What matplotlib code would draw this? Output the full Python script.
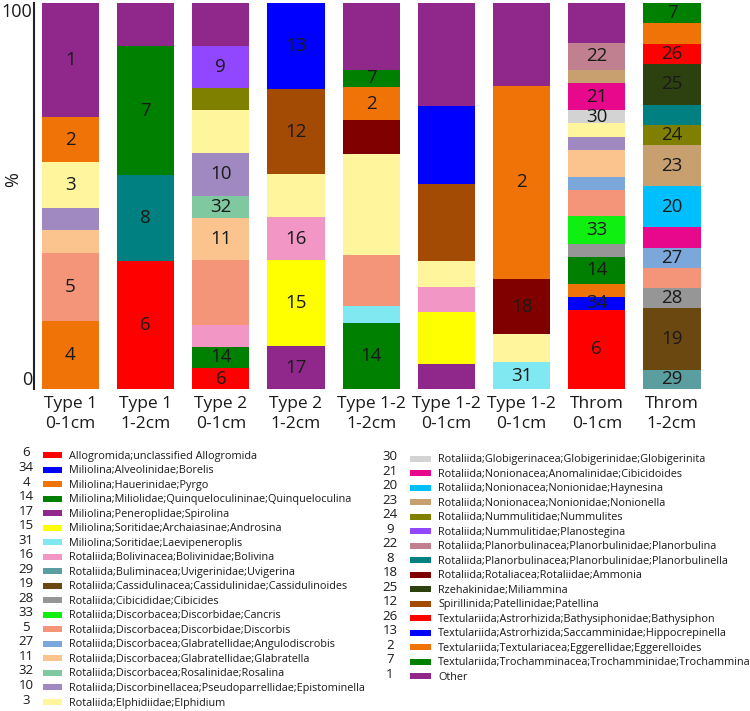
import matplotlib
matplotlib.use("Agg")
import matplotlib.pyplot as plt

plt.rcParams['font.family'] = ['Open Sans', 'DejaVu Sans']

# ---------------- data ----------------
sample_labels = ["Type 1\n0-1cm", "Type 1\n1-2cm", "Type 2\n0-1cm", "Type 2\n1-2cm",
                 "Type 1-2\n1-2cm", "Type 1-2\n0-1cm", "Type 1-2\n0-1cm",
                 "Throm\n0-1cm", "Throm\n1-2cm"]

# taxa per bar (bottom -> top), values in %, and which segments carry a number label
bar1_taxa = [4, 5, 11, 10, 3, 2, 1]
bar1_vals = [17.5, 17.7, 5.9, 5.9, 11.7, 11.8, 29.5]
bar1_lab = [4, 5, 3, 2, 1]

bar2_taxa = [6, 8, 7, 1]
bar2_vals = [33.2, 22.2, 33.4, 11.2]
bar2_lab = [6, 8, 7]

bar3_taxa = [6, 14, 16, 5, 11, 32, 10, 3, 24, 9, 1]
bar3_vals = [5.4, 5.6, 5.5, 16.8, 11.0, 5.8, 11.0, 11.2, 5.6, 11.0, 11.1]
bar3_lab = [6, 14, 11, 32, 10, 9]

bar4_taxa = [17, 15, 16, 3, 12, 13]
bar4_vals = [11.1, 22.2, 11.2, 11.1, 22.2, 22.2]
bar4_lab = [17, 15, 16, 12, 13]

bar5_taxa = [14, 31, 5, 3, 18, 2, 7, 1]
bar5_vals = [17.2, 4.3, 13.2, 26.1, 8.8, 8.6, 4.5, 17.3]
bar5_lab = [14, 2, 7]

bar6_taxa = [17, 15, 16, 3, 12, 13, 1]
bar6_vals = [6.5, 13.4, 6.6, 6.7, 20.0, 20.2, 26.6]
bar6_lab = []

bar7_taxa = [31, 3, 18, 2, 1]
bar7_vals = [6.9, 7.3, 14.3, 50.1, 21.4]
bar7_lab = [31, 18, 2]

bar8_taxa = [6, 34, 2, 14, 28, 33, 5, 27, 11, 10, 3, 30, 21, 23, 22, 1]
bar8_vals = [20.5, 3.4, 3.4, 6.9, 3.4, 7.1, 6.9, 3.3, 7.1, 3.4, 3.4, 3.4, 7.1, 3.4, 6.9, 10.4]
bar8_lab = [6, 34, 14, 33, 30, 21, 22]

bar9_taxa = [29, 19, 28, 5, 27, 21, 20, 23, 24, 8, 25, 26, 2, 7]
bar9_vals = [5.0, 15.9, 5.2, 5.3, 5.2, 5.4, 10.5, 10.6, 5.2, 5.3, 10.6, 5.2, 5.3, 5.3]
bar9_lab = [29, 19, 28, 27, 20, 23, 24, 25, 26, 7]

bars_taxa = [bar1_taxa, bar2_taxa, bar3_taxa, bar4_taxa, bar5_taxa,
             bar6_taxa, bar7_taxa, bar8_taxa, bar9_taxa]
bars_vals = [bar1_vals, bar2_vals, bar3_vals, bar4_vals, bar5_vals,
             bar6_vals, bar7_vals, bar8_vals, bar9_vals]
bars_lab = [bar1_lab, bar2_lab, bar3_lab, bar4_lab, bar5_lab,
            bar6_lab, bar7_lab, bar8_lab, bar9_lab]

taxon_colors = {
    6: '#FF0000', 34: '#0000FF', 4: '#F07308', 14: '#008000', 17: '#90288C',
    15: '#FFFF00', 31: '#80E8F0', 16: '#F296C6', 29: '#5A9EA0', 19: '#6B4810',
    28: '#969696', 33: '#10F010', 5: '#F4957A', 27: '#7BA7DA', 11: '#FBC48E',
    32: '#80C8A0', 10: '#A088C0', 3: '#FFF59C', 30: '#D3D3D3', 21: '#E8088C',
    20: '#00BFFF', 23: '#C8A070', 24: '#808000', 9: '#9146FF', 22: '#C08090',
    8: '#008080', 18: '#800000', 25: '#2C4010', 12: '#A34A04', 26: '#FF0000',
    13: '#0000FF', 2: '#F07308', 7: '#008000', 1: '#90288C',
}

legend_left_ids = [6, 34, 4, 14, 17, 15, 31, 16, 29, 19, 28, 33, 5, 27, 11, 32, 10, 3]
legend_left_names = [
    "Allogromida;unclassified Allogromida",
    "Miliolina;Alveolinidae;Borelis",
    "Miliolina;Hauerinidae;Pyrgo",
    "Miliolina;Miliolidae;Quinqueloculininae;Quinqueloculina",
    "Miliolina;Peneroplidae;Spirolina",
    "Miliolina;Soritidae;Archaiasinae;Androsina",
    "Miliolina;Soritidae;Laevipeneroplis",
    "Rotaliida;Bolivinacea;Bolivinidae;Bolivina",
    "Rotaliida;Buliminacea;Uvigerinidae;Uvigerina",
    "Rotaliida;Cassidulinacea;Cassidulinidae;Cassidulinoides",
    "Rotaliida;Cibicididae;Cibicides",
    "Rotaliida;Discorbacea;Discorbidae;Cancris",
    "Rotaliida;Discorbacea;Discorbidae;Discorbis",
    "Rotaliida;Discorbacea;Glabratellidae;Angulodiscrobis",
    "Rotaliida;Discorbacea;Glabratellidae;Glabratella",
    "Rotaliida;Discorbacea;Rosalinidae;Rosalina",
    "Rotaliida;Discorbinellacea;Pseudoparrellidae;Epistominella",
    "Rotaliida;Elphidiidae;Elphidium",
]
legend_right_ids = [30, 21, 20, 23, 24, 9, 22, 8, 18, 25, 12, 26, 13, 2, 7, 1]
legend_right_names = [
    "Rotaliida;Globigerinacea;Globigerinidae;Globigerinita",
    "Rotaliida;Nonionacea;Anomalinidae;Cibicidoides",
    "Rotaliida;Nonionacea;Nonionidae;Haynesina",
    "Rotaliida;Nonionacea;Nonionidae;Nonionella",
    "Rotaliida;Nummulitidae;Nummulites",
    "Rotaliida;Nummulitidae;Planostegina",
    "Rotaliida;Planorbulinacea;Planorbulinidae;Planorbulina",
    "Rotaliida;Planorbulinacea;Planorbulinidae;Planorbulinella",
    "Rotaliida;Rotaliacea;Rotaliidae;Ammonia",
    "Rzehakinidae;Miliammina",
    "Spirillinida;Patellinidae;Patellina",
    "Textulariida;Astrorhizida;Bathysiphonidae;Bathysiphon",
    "Textulariida;Astrorhizida;Saccamminidae;Hippocrepinella",
    "Textulariida;Textulariacea;Eggerellidae;Eggerelloides",
    "Textulariida;Trochamminacea;Trochamminidae;Trochammina",
    "Other",
]

# ---------------- figure ----------------
W, H, DPI = 750, 711, 100
fig = plt.figure(figsize=(W / DPI, H / DPI), dpi=DPI)
fig.patch.set_facecolor('white')

ax = fig.add_axes([34 / W, (H - 389) / H, (709.6 - 34) / W, 386 / H])
txt_col = '#1a1a1a'

for i, (taxa, vals, labs) in enumerate(zip(bars_taxa, bars_vals, bars_lab)):
    bottom = 0.0
    for t, v in zip(taxa, vals):
        ax.bar(i, v, bottom=bottom, width=0.76, color=taxon_colors[t],
               edgecolor='none', linewidth=0)
        if t in labs:
            ax.text(i, bottom + v / 2, str(t), ha='center', va='center',
                    fontsize=13.5, color=txt_col)
        bottom += v

ax.set_xlim(-0.485, 8.5)
ax.set_ylim(0, 100)
for s in ['top', 'right', 'bottom']:
    ax.spines[s].set_visible(False)
ax.spines['left'].set_color('#222222')
ax.spines['left'].set_linewidth(1.5)

ax.set_xticks(range(len(sample_labels)))
ax.set_xticklabels(sample_labels, fontsize=12.5, color=txt_col, linespacing=1.3)
ax.tick_params(axis='x', length=0, pad=5)
ax.set_yticks([0, 100])
ax.set_yticklabels(['0', '100'], fontsize=13, color=txt_col)
ax.tick_params(axis='y', length=0, pad=1)
yl = ax.get_yticklabels()
yl[0].set_va('bottom')
yl[1].set_va('top')

# ---------------- legend / overlay axes in pixel coordinates ----------------
lax = fig.add_axes([0, 0, 1, 1], zorder=-1)
lax.set_xlim(0, W)
lax.set_ylim(H, 0)
lax.axis('off')

lax.text(13, 180, '%', rotation=90, ha='center', va='center',
         fontsize=13, color=txt_col)

row_h = 14.53

def draw_col(ids, names, y0, num_x, patch_x, patch_w, text_x):
    ys = [y0 + k * row_h for k in range(len(ids))]
    lax.barh(ys, patch_w, left=patch_x, height=6,
             color=[taxon_colors[t] for t in ids], edgecolor='none')
    for y, t, nm in zip(ys, ids, names):
        lax.text(num_x, y - 2, str(t), ha='center', va='center',
                 fontsize=9.5, color=txt_col)
        lax.text(text_x, y + 1, nm, ha='left', va='center',
                 fontsize=7.8, color=txt_col)

draw_col(legend_left_ids, legend_left_names, 455, 26, 43, 19, 69)
draw_col(legend_right_ids, legend_right_names, 458.5, 390, 410, 21, 438)

fig.savefig('out.png', dpi=DPI)
